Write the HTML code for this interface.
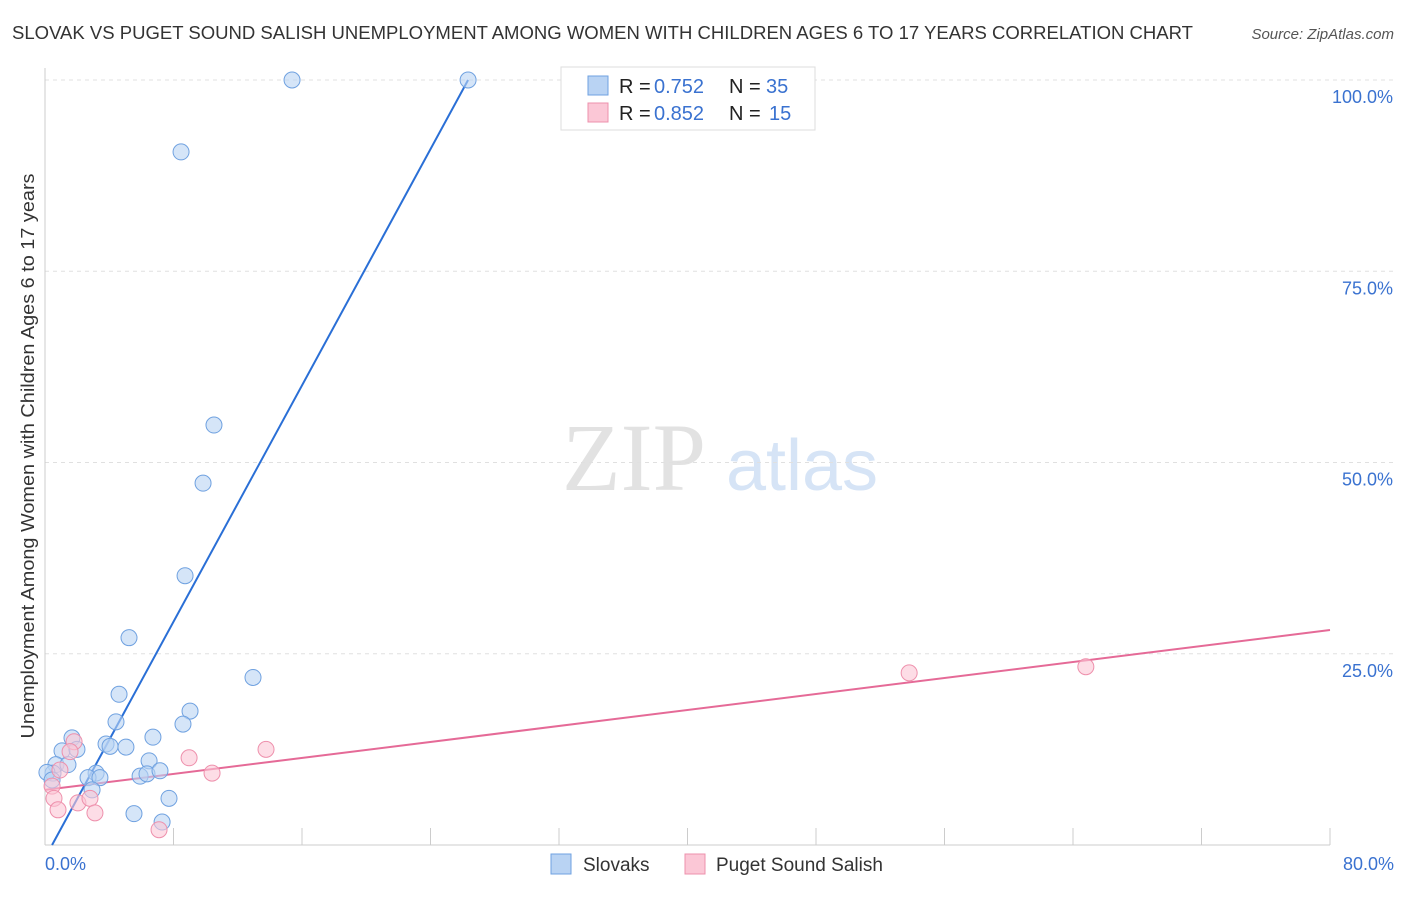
<!DOCTYPE html>
<html><head><meta charset="utf-8"><style>
body{margin:0;background:#fff;font-family:"Liberation Sans",sans-serif;}
</style></head><body>
<svg id="chart" width="1406" height="892" xmlns="http://www.w3.org/2000/svg" font-family="Liberation Sans, sans-serif">
<text x="12" y="39" font-size="18" fill="#333" textLength="1181" lengthAdjust="spacingAndGlyphs">SLOVAK VS PUGET SOUND SALISH UNEMPLOYMENT AMONG WOMEN WITH CHILDREN AGES 6 TO 17 YEARS CORRELATION CHART</text>
<text x="1394" y="39" font-size="15" fill="#555" font-style="italic" text-anchor="end">Source: ZipAtlas.com</text>
<g>
<text x="634" y="490" font-size="96" fill="#e2e2e2" font-family="Liberation Serif, serif" text-anchor="middle">ZIP</text>
<text x="802" y="490" font-size="72" fill="#d6e4f6" text-anchor="middle">atlas</text>
</g>
<g id="grid"></g>
<g id="axes"></g>
<text transform="translate(34,456) rotate(-90)" font-size="18" fill="#333" text-anchor="middle" textLength="565" lengthAdjust="spacingAndGlyphs">Unemployment Among Women with Children Ages 6 to 17 years</text>
<g id="lines"></g>
<g id="points"></g>
<g>
<rect x="561" y="67" width="254" height="63" fill="#fff" stroke="#ddd"/>
<rect x="588" y="76" width="20" height="19" fill="#b9d3f3" stroke="#6fa1e0"/>
<rect x="588" y="103" width="20" height="19" fill="#fbc7d6" stroke="#ee90ac"/>
<text x="619" y="93" font-size="20" fill="#222">R =</text>
<text x="654" y="93" font-size="20" fill="#3a72d0">0.752</text>
<text x="729" y="93" font-size="20" fill="#222">N =</text>
<text x="766" y="93" font-size="20" fill="#3a72d0">35</text>
<text x="619" y="120" font-size="20" fill="#222">R =</text>
<text x="654" y="120" font-size="20" fill="#3a72d0">0.852</text>
<text x="729" y="120" font-size="20" fill="#222">N =</text>
<text x="769" y="120" font-size="20" fill="#3a72d0">15</text>
</g>
<g>
<rect x="551" y="854" width="20" height="20" fill="#b9d3f3" stroke="#6fa1e0"/>
<text x="583" y="871" font-size="19" fill="#333">Slovaks</text>
<rect x="685" y="854" width="20" height="20" fill="#fbc7d6" stroke="#ee90ac"/>
<text x="716" y="871" font-size="19" fill="#333">Puget Sound Salish</text>
</g>
</svg>
<script>
const blueX=[15.38,26.34,8.47,10.52,9.84,8.72,5.23,12.95,4.61,4.42,9.03,8.59,6.72,3.80,4.05,5.04,1.68,1.06,1.99,6.48,0.68,1.43,0.50,0.12,3.18,2.68,3.42,5.92,6.35,7.16,2.93,7.72,5.54,7.29,0.44];
const blueY=[100,100,90.6,54.9,47.3,35.2,27.1,21.9,19.7,16.1,17.5,15.8,14.1,13.2,12.9,12.8,14.0,12.3,12.5,11.0,10.5,10.5,9.4,9.5,9.4,8.8,8.8,9.0,9.3,9.7,7.2,6.1,4.1,3.0,8.5];
const pinkX=[53.8,64.8,13.76,8.97,10.40,1.81,1.56,0.93,0.44,0.56,0.81,2.05,2.80,3.11,7.10];
const pinkY=[22.5,23.3,12.5,11.4,9.4,13.5,12.2,9.8,7.7,6.1,4.6,5.5,6.1,4.2,2.0];
const blueLine=[[0.44,0],[26.34,100]];
const pinkLine=[[0,7.2],[80,28.1]];
const yTicks=[25,50,75,100];
const yTickLabels=["25.0%","50.0%","75.0%","100.0%"];
const xTicks=[0,8,16,24,32,40,48,56,64,72,80];
const xTickLabels=["0.0%","80.0%"];
const NS="http://www.w3.org/2000/svg";
const sx=v=>45+v*(1285/80), sy=v=>845-v*7.65;
function mk(t,a,p){const e=document.createElementNS(NS,t);for(const k in a)e.setAttribute(k,a[k]);document.getElementById(p).appendChild(e);return e;}
yTicks.forEach((t,i)=>{
 const l=mk('line',{x1:45,x2:1394,y1:sy(t),y2:sy(t),stroke:'#e0e0e0','stroke-dasharray':'4,4'},'grid');
 
 
 const tx=mk('text',{x:1393,y:sy(t)+23,'font-size':18,fill:'#3a72d0','text-anchor':'end'},'axes');
 tx.textContent=yTickLabels[i];
 
 
});
const ax=mk('line',{x1:45,x2:45,y1:68,y2:845,stroke:'#ccc'},'axes');


const bx=mk('line',{x1:45,x2:1330,y1:845,y2:845,stroke:'#ccc'},'axes');


xTicks.forEach(t=>{
 const l=mk('line',{x1:sx(t),x2:sx(t),y1:828,y2:845,stroke:'#ccc'},'axes');
 
 
});
[[0,'start',45],[80,'end',1394]].forEach((d,i)=>{
 const tx=mk('text',{x:d[2],y:870,'font-size':18,fill:'#3a72d0','text-anchor':d[1]},'axes');
 tx.textContent=xTickLabels[i];
 
 
});
function pts(X,Y,f,s,n){X.forEach((x,i)=>{const c=mk('circle',{cx:sx(x),cy:sy(Y[i]),r:8,fill:f,'fill-opacity':0.6,stroke:s,'stroke-width':1},'points');
 
 });}
pts(blueX,blueY,'#b9d3f3','#6fa1e0','slovak-point');
pts(pinkX,pinkY,'#fbc7d6','#ee90ac','salish-point');
const bl=mk('line',{x1:sx(blueLine[0][0]),y1:sy(blueLine[0][1]),x2:sx(blueLine[1][0]),y2:sy(blueLine[1][1]),stroke:'#2a6fd6','stroke-width':2},'lines');


const pl=mk('line',{x1:sx(pinkLine[0][0]),y1:sy(pinkLine[0][1]),x2:sx(pinkLine[1][0]),y2:sy(pinkLine[1][1]),stroke:'#e56a97','stroke-width':2},'lines');


</script>
</body></html>
